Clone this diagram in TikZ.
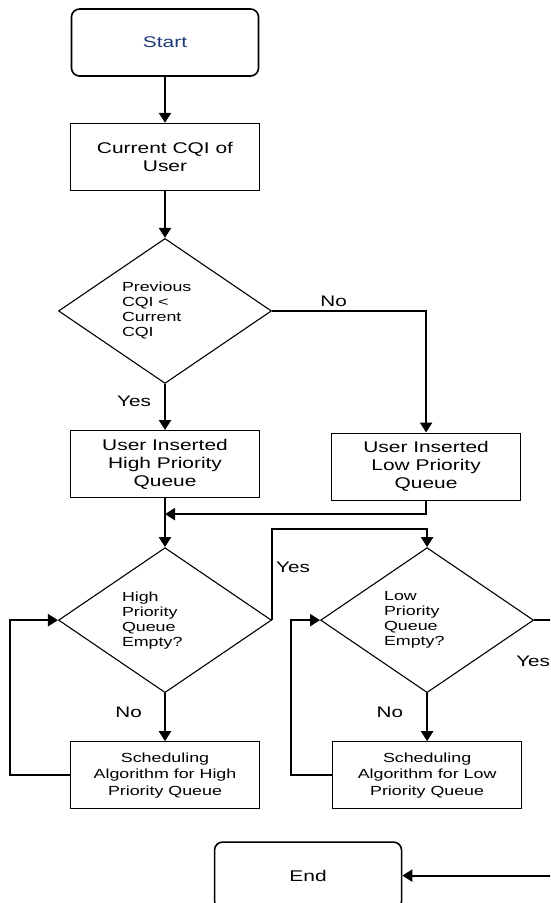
\documentclass[tikz,border=0pt]{standalone}
\usepackage{fontspec}
\setmainfont{Liberation Sans}[FakeStretch=1.35]
\usepackage{tikz}
\usetikzlibrary{
  shapes.geometric,
  arrows.meta,
  positioning,
  calc
}
\usepackage{xcolor}
\definecolor{startblue}{HTML}{1F3A78}
\tikzset{
  terminal/.style={
    rectangle, draw, rounded corners=8pt,
    minimum width=187pt, minimum height=67pt,
    font=\fontsize{15.5pt}{18pt}\selectfont, line width=1.6pt
  },
  process/.style={
    rectangle, draw, minimum width=189pt, minimum height=67pt,
    font=\fontsize{15.5pt}{18pt}\selectfont, align=center, line width=1.1pt
  },
  schedbox/.style={
    process, font=\fontsize{13.2pt}{16.5pt}\selectfont
  },
  decision/.style={
    diamond, draw, aspect=1.45, minimum width=213pt, minimum height=145pt,
    inner sep=0pt, text width=86pt, align=left,
    font=\fontsize{13.2pt}{15pt}\selectfont, line width=1.1pt
  },
  arrow/.style={-{Triangle[length=10pt, width=12pt]}, line width=2.2pt},
  lbl/.style={font=\fontsize{15.3pt}{18pt}\selectfont, inner sep=0pt},
}

\begin{document}
\begin{tikzpicture}
\path[use as bounding box] (0,0) rectangle (550pt,-903pt);
\clip (0,0) rectangle (550pt,-903pt);

\node[terminal, text=startblue] (start) at (165pt,-42.5pt) {Start};
\node[process, below=46pt of start] (cqi) {Current CQI of\\User};

% CQI comparison
\node[decision, below=47pt of cqi] (prev) {Previous\\CQI <\\Current\\CQI};
\node[process, below=46pt of prev] (high) {User Inserted\\High Priority\\Queue};
\node[process, right=71pt of high, yshift=-2.5pt] (low) {User Inserted\\Low Priority\\Queue};

% Queue checks
\node[decision, below=49pt of high] (hemp) {High\\Priority\\Queue\\Empty?};
\node[decision, right=48pt of hemp] (lemp) {Low\\Priority\\Queue\\Empty?};
\node[schedbox, below=48pt of hemp] (shigh) {Scheduling\\Algorithm for High\\Priority Queue};
\node[schedbox, below=48pt of lemp] (slow) {Scheduling\\Algorithm for Low\\Priority Queue};
\node[terminal, below=32pt of $(shigh.south)!0.5!(slow.south)$, xshift=12pt] (end) {End};

\coordinate (join) at ($(high.south)+(0,-16pt)$);

% Arrows
\draw[arrow] (start) -- (cqi);
\draw[arrow] (cqi) -- (prev);
\draw[arrow] (prev) -- node[lbl, pos=0.37, left=13pt] {Yes} (high);
\draw[arrow] (prev.east) -| node[lbl, pos=0.2, above=3.5pt] {No} (low);
\draw[arrow] (high) -- (hemp);
\draw[arrow] (low.south) |- (join);
\draw[arrow] (hemp.east) -- node[lbl, pos=0.58, right=3pt] {Yes} ++(0,91pt) -| (lemp.north);
\draw[arrow] (hemp) -- node[lbl, pos=0.4, left=22pt] {No} (shigh);
\draw[arrow] (lemp) -- node[lbl, pos=0.4, left=23pt] {No} (slow);
\draw[arrow] (shigh.west) -- ++(-60pt,0) |- (hemp.west);
\draw[arrow] (slow.west) -- ++(-41pt,0) |- (lemp.west);
\draw[arrow] (lemp.east) -- node[lbl, pos=0, anchor=north west, xshift=-19pt, yshift=-35pt] {Yes} ++(40pt,0) |- (end.east);

\end{tikzpicture}
\end{document}
